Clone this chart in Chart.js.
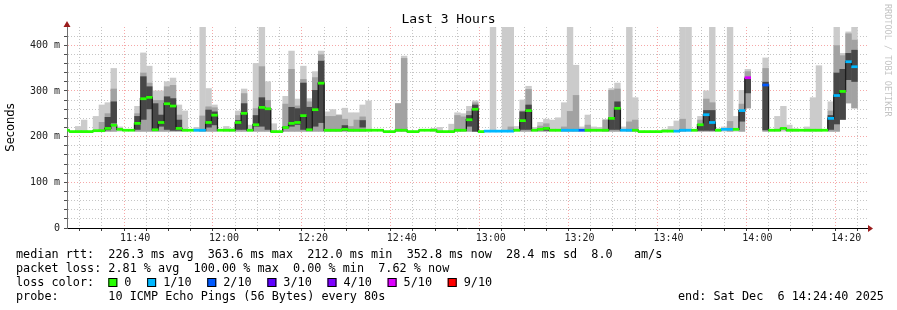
<!DOCTYPE html>
<html>
<head>
<meta charset="utf-8">
<title>Last 3 Hours</title>
<script src="https://cdn.jsdelivr.net/npm/chart.js@4.4.0/dist/chart.umd.min.js"></script>
<style>
  html, body { margin: 0; padding: 0; background: #fff; }
  canvas { display: block; }
</style>
</head>
<body>
<canvas id="smoke" width="897" height="310"></canvas>
<script>
// === SmokePing style RTT graph, last 3 hours ===

// one column per 80 s probe round; index 0 is the partial column at the left edge
const stepMin = 80 / 60;
const firstEdge = 0.52 - stepMin;          // minutes after 11:24:40
const startClock = 11 * 60 + 24 + 40 / 60; // 11:24:40 in minutes

// median rtt per round (ms), null = no data
const median = [
  214, 211, 211, 211, 211, 213, 213, 218, 225, 216,
  214, 214, 229, 283, 286, 215, 231, 272, 267, 218,
  214, 214, 214, 214, 231, 247, 214, 214, 214, 231,
  251, 214, 226, 264, 261, 211, 211, 220, 229, 231,
  246, 215, 259, 317, 214, 214, 214, 216, 214, 214,
  214, 214, 214, 214, 211, 211, 214, 214, 211, 211,
  214, 214, 214, 211, 211, 211, 214, 214, 237, 260,
  211, 212, 212, 212, 212, 212, 214, 235, 257, 214,
  216, 218, 214, 214, 214, 214, 214, 214, 214, 214,
  214, 214, 240, 262, 214, 214, 214, 211, 211, 211,
  211, 212, 212, 212, 214, 214, 214, 226, 248, 231,
  214, 216, 216, 216, 257, 329, null, null, 313, 214,
  214, 218, 214, 214, 214, 214, 214, 214, 214, 240,
  290, 299, 364, 353, null, null
];

// lost pings out of 10 per round
const lossCount = [
  0, 0, 0, 0, 0, 0, 0, 0, 0, 0,
  0, 0, 0, 0, 0, 0, 0, 0, 0, 0,
  0, 0, 1, 1, 0, 0, 0, 0, 0, 0,
  0, 0, 0, 0, 0, 0, 0, 0, 0, 0,
  0, 0, 0, 0, 0, 0, 0, 0, 0, 0,
  0, 0, 0, 0, 0, 0, 0, 0, 0, 0,
  0, 0, 0, 0, 0, 0, 0, 0, 0, 0,
  0, 1, 1, 1, 1, 1, 0, 0, 0, 0,
  0, 0, 0, 0, 1, 1, 1, 2, 0, 0,
  0, 0, 0, 0, 1, 1, 0, 0, 0, 0,
  0, 0, 0, 1, 1, 1, 0, 0, 1, 1,
  0, 1, 1, 0, 1, 5, 0, 0, 2, 0,
  0, 0, 0, 0, 0, 0, 0, 0, 0, 1,
  1, 0, 1, 1, 0, 0
];

// fastest ping of the round (bottom of the smoke)
const smokeMin = [
  211, 211, 211, 211, 211, 211, 211, 211, 211, 211,
  211, 211, 211, 211, 211, 211, 211, 211, 211, 211,
  211, 211, 211, 211, 211, 211, 211, 211, 211, 211,
  211, 211, 211, 211, 211, 211, 211, 211, 211, 211,
  211, 211, 211, 211, 211, 211, 211, 211, 211, 211,
  211, 211, 211, 211, 211, 211, 211, 211, 211, 211,
  211, 211, 211, 211, 211, 211, 211, 211, 211, 211,
  211, 211, 211, 211, 211, 211, 211, 211, 211, 211,
  211, 211, 211, 211, 211, 211, 211, 211, 211, 211,
  211, 211, 211, 211, 211, 211, 211, 211, 211, 211,
  211, 211, 211, 211, 211, 211, 211, 211, 211, 211,
  211, 211, 211, 211, 211, 262, 211, 211, 211, 211,
  211, 211, 211, 211, 211, 211, 211, 211, 211, 211,
  211, 237, 273, 262, 211, 211
];

// slowest ping of the round (top of the light smoke)
const smokeMax = [
  null, null, 223, 237, null, 245, 270, 275, 350, 222,
  null, null, 267, 384, 355, 301, 301, 321, 329, 270,
  257, null, 221, 440, 306, 270, null, 223, 218, 257,
  305, 226, 361, 440, 321, 229, null, 289, 388, 283,
  355, 284, 343, 388, 255, 260, 249, 263, 253, 253,
  270, 279, null, null, null, null, 273, 377, null, null,
  null, null, 219, 221, null, 228, 253, 251, 267, 279,
  null, null, 440, null, 440, 440, 223, 281, 311, 221,
  232, 239, 237, 242, 275, 440, 357, 222, 248, 222,
  221, 238, 306, 318, 222, 440, 286, null, null, null,
  null, 217, 223, 235, 440, 440, 215, 245, 301, 440,
  218, 222, 440, 245, 302, 348, null, null, 373, 215,
  245, 267, 226, 218, null, 222, 286, 356, null, 277,
  440, 383, 430, 440, null, null
];

// second smoke layer top
const smokeMid = [
  null, null, null, null, null, null, 232, 251, 305, null,
  null, null, 251, 340, 318, 280, 280, 310, 313, 248,
  null, null, null, 246, 266, 264, null, null, null, 247,
  295, null, 262, 354, 280, null, null, 272, 348, 268,
  326, 277, 330, 380, 245, 245, 247, 239, 223, 237,
  244, null, null, null, null, null, 273, 372, null, null,
  null, null, null, null, null, null, 247, 244, 256, 275,
  null, null, null, null, null, 222, null, 257, 304, null,
  224, 229, null, null, 222, 256, 291, null, 226, null,
  null, 237, 302, 305, null, 233, 237, null, null, null,
  null, null, null, null, 239, null, null, 237, 283, 275,
  null, null, 234, null, 272, 343, null, null, 350, null,
  null, null, null, null, null, null, null, null, null, 257,
  400, 378, 426, 412, null, null
];

// dense core of the smoke around the median
const coreLow = [
  null, null, null, null, null, null, null, 214, 229, null,
  null, null, 215, 237, 260, 215, 222, 215, 213, 213,
  null, null, null, null, 220, 225, null, null, null, 215,
  215, null, 222, 222, 215, null, null, null, 222, 226,
  215, 214, 222, 230, null, null, null, 213, null, null,
  220, null, null, null, null, null, null, null, null, null,
  null, null, null, null, null, null, null, null, 222, 211,
  null, null, null, null, null, null, null, 215, 215, null,
  null, 213, null, null, null, null, null, null, null, null,
  null, null, 215, 215, null, null, null, null, null, null,
  null, null, null, null, null, null, null, 213, 213, 213,
  null, null, null, null, 233, 295, null, null, 214, null,
  null, null, null, null, null, null, null, null, null, 215,
  227, 237, 324, 320, null, null
];
const coreHigh = [
  null, null, null, null, null, null, null, 243, 277, null,
  null, null, 245, 332, 310, 273, 248, 288, 284, 237,
  null, null, null, null, 259, 255, null, null, null, 236,
  273, null, 247, 286, 262, null, null, null, 265, 262,
  318, 265, 302, 366, null, null, null, 225, null, null,
  236, null, null, null, null, null, null, null, null, null,
  null, null, null, null, null, null, null, null, 247, 270,
  null, null, null, null, null, null, null, 255, 270, null,
  null, 220, null, null, null, null, null, null, null, null,
  null, null, 243, 277, null, null, null, null, null, null,
  null, null, null, null, null, null, null, 226, 258, 258,
  null, null, null, null, 258, 329, null, null, 320, null,
  null, null, null, null, null, null, null, null, null, 247,
  340, 348, 383, 390, null, null
];

const timeLabels = ['11:40', '12:00', '12:20', '12:40', '13:00', '13:20', '13:40', '14:00', '14:20'];
const yLabels = ['0', '100 m', '200 m', '300 m', '400 m'];

const lossNames = ['0', '1/10', '2/10', '3/10', '4/10', '5/10', '9/10'];
const lossColors = ['#26ff00', '#00b8ff', '#0059ff', '#5e00ff', '#7e00ff', '#dd00ff', '#ff0000'];

const legendRows = [
  'median rtt:  226.3 ms avg  363.6 ms max  212.0 ms min  352.8 ms now  28.4 ms sd  8.0   am/s',
  'packet loss: 2.81 % avg  100.00 % max  0.00 % min  7.62 % now',
  'loss color:',
  'probe:       10 ICMP Echo Pings (56 Bytes) every 80s'
];
const endText = 'end: Sat Dec  6 14:24:40 2025';

const MINOR = 'rgba(150,150,150,0.55)';
const MAJOR = 'rgba(240,110,110,0.6)';
const NONE = 'rgba(0,0,0,0)';

function lossColor(n) {
  return n > 5 ? lossColors[6] : lossColors[n];
}

function floatBars(lo, hi) {
  const pts = [];
  hi.forEach((h, i) => {
    if (h === null || lo[i] === null) return;
    pts.push({ x: firstEdge + (i + 0.5) * stepMin, y: [lo[i], h] });
  });
  return pts;
}

const markPts = [];
const markColors = [];
median.forEach((m, i) => {
  if (m === null) return;
  markPts.push({ x: firstEdge + (i + 0.5) * stepMin, y: [m - 3, m + 3] });
  markColors.push(lossColor(lossCount[i]));
});

const linePts = median.map((m, i) => ({ x: firstEdge + i * stepMin, y: m }));

// 5 minute grid positions
const xTicks = [];
for (let t = Math.ceil(startClock / 5) * 5 - startClock; t <= 180; t += 5) xTicks.push(t);

function clockLabel(v) {
  const m = Math.round(startClock + v);
  if (m % 20 !== 0) return '';
  return timeLabels[(m - 700) / 20] || '';
}
function isMajorX(v) {
  return Math.round(startClock + v) % 20 === 0;
}

const barCommon = { grouped: false, barPercentage: 1.08, categoryPercentage: 1, borderWidth: 0 };

const decorations = {
  id: 'decorations',
  beforeDraw(chart) {
    const ctx = chart.ctx;
    ctx.save();
    ctx.fillStyle = '#fff';
    ctx.fillRect(0, 0, chart.width, chart.height);
    ctx.restore();
  },
  afterDraw(chart) {
    const ctx = chart.ctx;
    const a = chart.chartArea;
    ctx.save();

    // axis arrows
    ctx.fillStyle = '#9a1c1c';
    ctx.beginPath();
    ctx.moveTo(a.left - 3.5, a.top);
    ctx.lineTo(a.left + 3.5, a.top);
    ctx.lineTo(a.left, a.top - 6);
    ctx.closePath();
    ctx.fill();
    ctx.strokeStyle = '#000';
    ctx.lineWidth = 1;
    ctx.beginPath();
    ctx.moveTo(a.right, a.bottom + 0.5);
    ctx.lineTo(a.right + 2, a.bottom + 0.5);
    ctx.stroke();
    ctx.beginPath();
    ctx.moveTo(a.right + 1, a.bottom - 3);
    ctx.lineTo(a.right + 1, a.bottom + 4);
    ctx.lineTo(a.right + 6, a.bottom + 0.5);
    ctx.closePath();
    ctx.fill();

    // title
    ctx.fillStyle = '#000';
    ctx.textBaseline = 'middle';
    ctx.textAlign = 'center';
    ctx.font = '13px "DejaVu Sans Mono"';
    ctx.fillText('Last 3 Hours', chart.width / 2, 20);

    // vertical axis label
    ctx.save();
    ctx.translate(11, (a.top + a.bottom) / 2);
    ctx.rotate(-Math.PI / 2);
    ctx.font = '11.5px "DejaVu Sans"';
    ctx.fillText('Seconds', 0, 0);
    ctx.restore();

    // rrdtool credit
    ctx.save();
    ctx.translate(887, 4);
    ctx.rotate(Math.PI / 2);
    ctx.textAlign = 'left';
    ctx.fillStyle = '#c4c4c4';
    ctx.font = '8.5px "DejaVu Sans Mono"';
    ctx.fillText('RRDTOOL / TOBI OETIKER', 0, 0);
    ctx.restore();

    // legend
    ctx.textAlign = 'left';
    ctx.font = '11.8px "DejaVu Sans Mono"';
    const rowY = [255, 268.5, 282.5, 296.5];
    legendRows.forEach((row, i) => ctx.fillText(row, 16, rowY[i]));
    const cw = ctx.measureText('0').width;
    let x = 16 + 13 * cw;
    lossNames.forEach((name, i) => {
      ctx.fillStyle = lossColors[i];
      ctx.fillRect(x, rowY[2] - 4.5, 9, 9);
      ctx.strokeStyle = '#000';
      ctx.strokeRect(x + 0.5, rowY[2] - 4, 8, 8);
      ctx.fillStyle = '#000';
      ctx.fillText(name, x + 16, rowY[2]);
      x += 16 + ctx.measureText(name).width + 2 * cw + 1.5;
    });
    ctx.fillText(endText, 678, rowY[3]);
    ctx.restore();
  }
};

Chart.defaults.font.family = '"DejaVu Sans Mono"';
Chart.defaults.font.size = 10;
Chart.defaults.color = '#202020';

new Chart(document.getElementById('smoke').getContext('2d'), {
  type: 'bar',
  data: {
    datasets: [
      Object.assign({ label: 'loss', data: markPts, backgroundColor: markColors, order: 1 }, barCommon),
      {
        type: 'line', label: 'median', data: linePts, stepped: true,
        borderColor: '#1c1c1c', borderWidth: 1.3, pointRadius: 0, fill: false, order: 2
      },
      Object.assign({ label: 'core', data: floatBars(coreLow, coreHigh), backgroundColor: '#474747', order: 3 }, barCommon),
      Object.assign({ label: 'mid', data: floatBars(smokeMin, smokeMid), backgroundColor: '#a2a2a2', order: 4 }, barCommon),
      Object.assign({ label: 'max', data: floatBars(smokeMin, smokeMax), backgroundColor: '#cbcbcb', order: 5 }, barCommon)
    ]
  },
  options: {
    responsive: false,
    animation: false,
    devicePixelRatio: 1,
    layout: { padding: { left: 0, right: 30, top: 27, bottom: 0 } },
    plugins: { legend: { display: false }, tooltip: { enabled: false } },
    scales: {
      x: {
        type: 'linear',
        min: 0,
        max: 180,
        offset: false,
        afterFit: s => { s.height = 82; },
        afterBuildTicks: s => { s.ticks = xTicks.map(v => ({ value: v })); },
        ticks: { autoSkip: false, maxRotation: 0, padding: 1, callback: v => clockLabel(v) },
        grid: {
          color: c => (c.tick && isMajorX(c.tick.value) ? MAJOR : MINOR),
          tickColor: '#404040',
          tickLength: 3,
          tickBorderDash: []
        },
        border: { color: '#000', width: 1, dash: [1, 2] }
      },
      y: {
        min: 0,
        max: 440,
        afterFit: s => { s.width = 67; },
        ticks: {
          stepSize: 20,
          autoSkip: false,
          padding: 4,
          callback: v => (v % 100 === 0 ? yLabels[v / 100] : '')
        },
        grid: {
          color: c => {
            const v = c.tick ? c.tick.value : 0;
            if (v === 0 || v === 440) return NONE;
            return v % 100 === 0 ? MAJOR : MINOR;
          },
          tickColor: c => (c.tick && c.tick.value === 440 ? NONE : '#505050'),
          tickLength: 3,
          tickBorderDash: []
        },
        border: { color: '#707070', width: 1, dash: [1, 2] }
      }
    }
  },
  plugins: [decorations]
});
</script>
</body>
</html>
